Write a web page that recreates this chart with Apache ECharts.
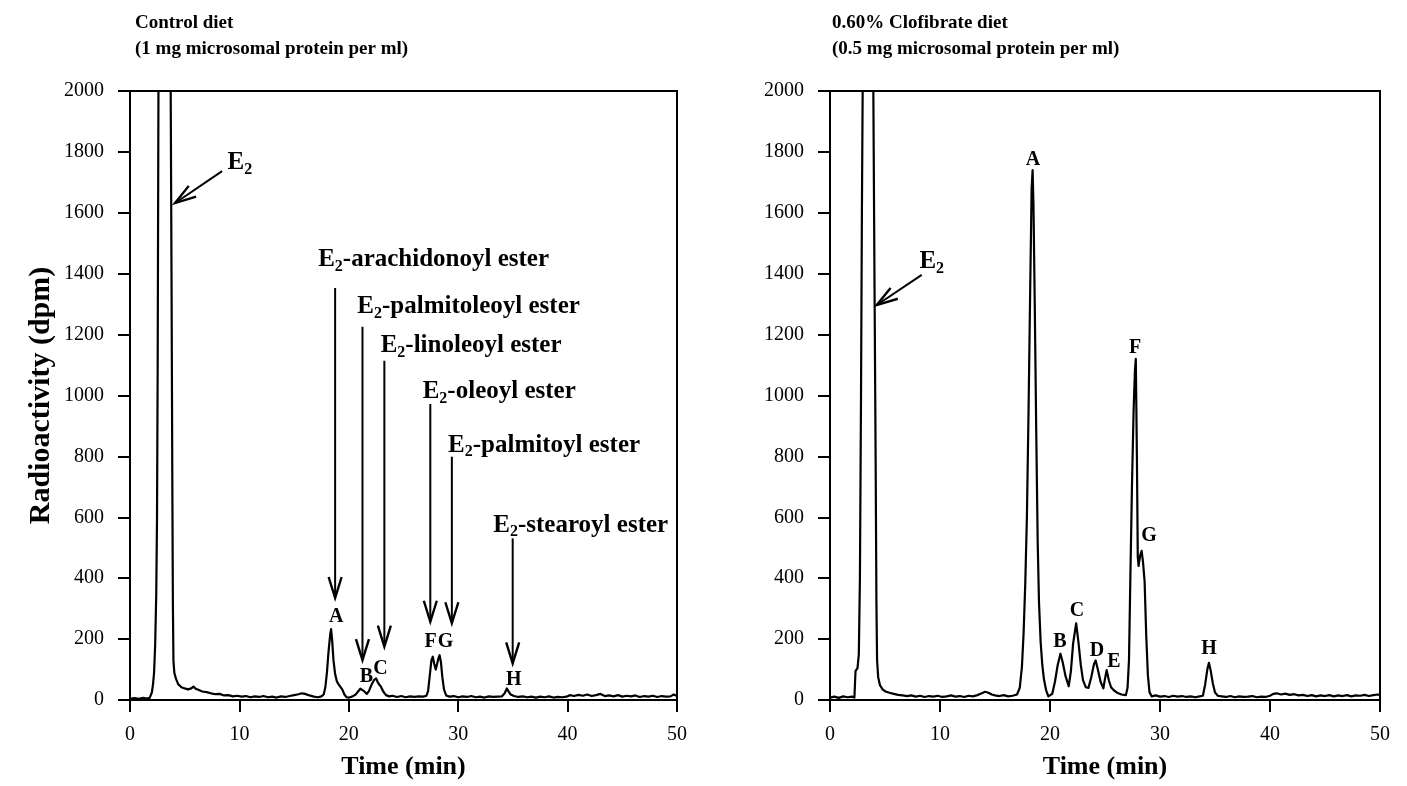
<!DOCTYPE html>
<html>
<head>
<meta charset="utf-8">
<script src="https://cdn.jsdelivr.net/npm/echarts@6/dist/echarts.min.js"></script>
<style>html,body{margin:0;padding:0;background:#fff}#c{width:1407px;height:786px}</style>
</head>
<body>
<div id="c"></div>
<script>
// ---------- DATA ----------
const panelTitles = ['Control diet\n(1 mg microsomal protein per ml)', '0.60% Clofibrate diet\n(0.5 mg microsomal protein per ml)'];
const xAxisTitle = 'Time (min)';
const yAxisTitle = 'Radioactivity (dpm)';
const xRange = [0, 50, 10];
const yRange = [0, 2000, 200];

// control diet trace [time (min), dpm]
const controlTrace = [[0,4],[0.4,6],[0.8,4],[1.2,7],[1.5,5],[1.8,7],[1.9,12],[2.0,25],[2.1,50],[2.2,90],[2.3,180],[2.4,350],[2.47,600],[2.53,1100],[2.6,2000],[2.7,3200],[3.1,4200],[3.5,3400],[3.65,2500],[3.72,2000],[3.8,1350],[3.87,700],[3.92,320],[3.97,130],[4.05,90],[4.2,70],[4.4,52],[4.7,42],[5.0,38],[5.3,35],[5.6,38],[5.8,44],[6.0,37],[6.3,33],[6.6,28],[7.0,26],[7.4,22],[7.8,19],[8.2,20],[8.6,15],[9.0,16],[9.4,12],[9.8,14],[10.2,11],[10.6,13],[11.0,9],[11.4,12],[11.8,10],[12.2,13],[12.6,9],[13.0,11],[13.4,8],[13.8,12],[14.2,10],[14.6,13],[15.0,16],[15.4,19],[15.7,22],[16.0,20],[16.4,15],[16.8,11],[17.2,9],[17.5,12],[17.7,18],[17.85,40],[18.0,90],[18.15,160],[18.3,215],[18.38,233],[18.47,200],[18.6,130],[18.75,85],[18.9,62],[19.05,52],[19.2,48],[19.4,35],[19.6,18],[19.8,9],[20.0,8],[20.3,11],[20.6,17],[20.85,28],[21.05,37],[21.2,38],[21.4,29],[21.65,20],[21.85,30],[22.1,52],[22.3,65],[22.5,71],[22.65,58],[22.8,50],[22.95,43],[23.15,28],[23.4,16],[23.7,12],[24.0,14],[24.4,10],[24.8,13],[25.2,9],[25.6,12],[26.0,10],[26.4,12],[26.8,11],[27.1,14],[27.25,30],[27.4,80],[27.55,130],[27.68,142],[27.8,120],[27.95,100],[28.05,105],[28.18,135],[28.3,147],[28.42,125],[28.55,75],[28.7,35],[28.9,15],[29.2,11],[29.6,13],[30.0,9],[30.4,12],[30.8,10],[31.2,13],[31.6,9],[32.0,11],[32.4,8],[32.8,12],[33.2,10],[33.6,11],[34.0,12],[34.25,22],[34.45,38],[34.6,28],[34.8,18],[35.1,13],[35.5,10],[35.9,12],[36.3,9],[36.7,11],[37.1,8],[37.5,11],[37.9,9],[38.3,12],[38.7,8],[39.1,10],[39.5,9],[39.9,11],[40.2,16],[40.6,13],[41.0,17],[41.4,14],[41.8,18],[42.2,13],[42.6,16],[43.0,20],[43.4,13],[43.8,15],[44.2,12],[44.6,16],[45.0,11],[45.4,14],[45.8,12],[46.2,15],[46.6,10],[47.0,13],[47.4,11],[47.8,14],[48.2,10],[48.6,13],[49.0,11],[49.4,12],[49.7,18],[49.85,22],[50,13]];

// 0.60% clofibrate diet trace [time (min), dpm]
const clofibrateTrace = [[0,8],[0.4,11],[0.8,7],[1.2,12],[1.6,9],[2.0,11],[2.22,8],[2.28,60],[2.32,95],[2.5,105],[2.62,150],[2.72,400],[2.82,1000],[2.9,1600],[2.97,2000],[3.1,3500],[3.5,4200],[3.85,2700],[3.94,2000],[4.05,1350],[4.15,780],[4.22,320],[4.28,130],[4.38,75],[4.55,48],[4.8,34],[5.1,27],[5.4,24],[5.8,20],[6.2,17],[6.6,15],[7.0,13],[7.4,15],[7.8,11],[8.2,14],[8.6,10],[9.0,13],[9.4,11],[9.8,14],[10.2,10],[10.6,12],[11.0,15],[11.4,11],[11.8,13],[12.2,10],[12.6,14],[13.0,12],[13.4,16],[13.8,22],[14.1,27],[14.4,24],[14.7,18],[15.0,15],[15.4,13],[15.8,16],[16.2,12],[16.6,14],[17.0,18],[17.25,40],[17.45,110],[17.6,220],[17.75,380],[17.9,600],[18.05,950],[18.2,1350],[18.33,1680],[18.42,1740],[18.5,1620],[18.62,1280],[18.75,880],[18.88,520],[19.0,320],[19.15,190],[19.3,115],[19.45,68],[19.65,32],[19.85,12],[20.0,7],[20.2,20],[20.45,60],[20.7,115],[20.95,152],[21.15,125],[21.4,80],[21.7,45],[21.9,95],[22.1,185],[22.38,252],[22.6,185],[22.8,115],[23.0,65],[23.25,42],[23.5,40],[23.75,75],[24.0,118],[24.15,130],[24.35,100],[24.6,60],[24.85,38],[25.0,70],[25.15,98],[25.35,65],[25.55,42],[25.8,32],[26.1,24],[26.5,18],[26.9,16],[27.05,40],[27.18,130],[27.3,390],[27.45,700],[27.6,950],[27.72,1080],[27.8,1120],[27.9,800],[27.98,470],[28.05,440],[28.2,475],[28.33,490],[28.45,455],[28.6,390],[28.75,210],[28.9,80],[29.05,25],[29.25,12],[29.6,15],[30.0,11],[30.4,13],[30.8,10],[31.2,14],[31.6,11],[32.0,13],[32.4,10],[32.8,12],[33.2,9],[33.6,12],[33.9,14],[34.1,50],[34.3,100],[34.45,122],[34.6,98],[34.8,55],[35.0,25],[35.25,14],[35.6,12],[36.0,10],[36.4,13],[36.8,9],[37.2,12],[37.6,10],[38.0,11],[38.4,13],[38.8,9],[39.2,11],[39.6,10],[40.0,14],[40.3,20],[40.6,22],[41.0,18],[41.4,21],[41.8,17],[42.2,19],[42.6,15],[43.0,17],[43.4,13],[43.8,16],[44.2,12],[44.6,15],[45.0,13],[45.4,16],[45.8,12],[46.2,15],[46.6,13],[47.0,16],[47.4,12],[47.8,15],[48.2,14],[48.6,17],[49.0,13],[49.4,16],[49.8,18],[50,17]];

// peak letter labels [letter, time, dpm]
const controlPeakLabels = [['A',18.84,273],['B',21.61,77],['C',22.89,104],['F',27.47,190],['G',28.85,190],['H',35.07,66]];
const clofibratePeakLabels = [['A',18.45,1773],['B',20.91,190],['C',22.45,292],['D',24.27,161],['E',25.82,125],['F',27.73,1156],['G',29.0,539],['H',34.45,167]];

// ester annotation texts [ester, time, dpm] and arrows [time, top dpm, tip dpm]
const esterLabels = [['arachidonoyl',27.75,1445],['palmitoleoyl',30.95,1292],['linoleoyl',31.18,1163],['oleoyl',33.75,1012],['palmitoyl',37.85,837],['stearoyl',41.2,574]];
const esterArrows = [[18.75,1353,335],[21.25,1226,131],[23.25,1114,175],[27.45,972,257],[29.42,799,252],[34.98,531,120]];

// E2 label [time, dpm] and arrow [startTime, startDpm, tipTime, tipDpm]
const controlE2Label = [10.05,1764];
const controlE2Arrow = [8.42,1737,4.12,1632];
const clofibrateE2Label = [9.25,1440];
const clofibrateE2Arrow = [8.34,1396,4.25,1297];

// ---------- CHART ----------
const FONT = 'Liberation Serif';
const richE = {
  b: {fontFamily: FONT, fontSize: 25, fontWeight: 'bold', color: '#000', lineHeight: 29},
  s: {fontFamily: FONT, fontSize: 16, fontWeight: 'bold', color: '#000', lineHeight: 29, padding: [14, 0, 0, 0]}
};

function xAxisOpt(gi) {
  return {
    type: 'value', gridIndex: gi, min: xRange[0], max: xRange[1], interval: xRange[2],
    name: xAxisTitle, nameLocation: 'middle', nameGap: 54, nameMoveOverlap: false,
    nameTextStyle: {fontFamily: FONT, fontSize: 26, fontWeight: 'bold', color: '#000'},
    axisLine: {show: true, lineStyle: {color: '#000', width: 2}},
    axisTick: {show: true, inside: false, length: 12, lineStyle: {color: '#000', width: 2}},
    axisLabel: {fontFamily: FONT, fontSize: 20, color: '#000', margin: 25},
    splitLine: {show: false}
  };
}
function yAxisOpt(gi, withName) {
  return {
    type: 'value', gridIndex: gi, min: yRange[0], max: yRange[1], interval: yRange[2],
    name: withName ? yAxisTitle : '', nameLocation: 'middle', nameGap: 74, nameRotate: 90, nameMoveOverlap: false,
    nameTextStyle: {fontFamily: FONT, fontSize: 30, fontWeight: 'bold', color: '#000'},
    axisLine: {show: true, lineStyle: {color: '#000', width: 2}},
    axisTick: {show: true, inside: false, length: 12, lineStyle: {color: '#000', width: 2}},
    axisLabel: {fontFamily: FONT, fontSize: 20, color: '#000', margin: 26, formatter: v => String(v)},
    splitLine: {show: false}
  };
}

function traceSeries(gi, trace) {
  return {
    type: 'line', xAxisIndex: gi, yAxisIndex: gi, data: trace,
    symbol: 'none', showSymbol: false, clip: true, silent: true,
    lineStyle: {color: '#000', width: 2.2, join: 'round'}
  };
}

function arrowSeries(gi, arrows) {
  return {
    type: 'custom', xAxisIndex: gi, yAxisIndex: gi, silent: true, clip: false,
    data: arrows,
    encode: {x: [0, 2], y: [1, 3]},
    renderItem: (params, api) => {
      const p1 = api.coord([api.value(0), api.value(1)]);
      const p2 = api.coord([api.value(2), api.value(3)]);
      const dx = p2[0] - p1[0], dy = p2[1] - p1[1];
      const L = Math.hypot(dx, dy) || 1;
      const ux = dx / L, uy = dy / L;
      const len = 21, hw = 6.5;
      const bx = p2[0] - ux * len, by = p2[1] - uy * len;
      const a1 = [bx - uy * hw, by + ux * hw], a2 = [bx + uy * hw, by - ux * hw];
      return {type: 'group', children: [
        {type: 'line', shape: {x1: p1[0], y1: p1[1], x2: p2[0] - ux, y2: p2[1] - uy}, style: {stroke: '#000', lineWidth: 2}},
        {type: 'polyline', shape: {points: [a1, p2, a2]}, style: {stroke: '#000', lineWidth: 2.4, fill: null, lineJoin: 'miter'}}
      ]};
    }
  };
}

const hiddenItem = {color: 'rgba(0,0,0,0)', opacity: 1};

function letterSeries(gi, labels) {
  return {
    type: 'scatter', xAxisIndex: gi, yAxisIndex: gi, silent: true,
    symbol: 'circle', symbolSize: 2, itemStyle: hiddenItem,
    data: labels.map(l => ({name: l[0], value: [l[1], l[2]]})),
    label: {show: true, position: 'inside', formatter: p => p.name, opacity: 1,
      textBorderWidth: 0, fontFamily: FONT, fontSize: 20, fontWeight: 'bold', color: '#000'}
  };
}

function richSeries(gi, items, fmt) {
  return {
    type: 'scatter', xAxisIndex: gi, yAxisIndex: gi, silent: true,
    symbol: 'circle', symbolSize: 2, itemStyle: hiddenItem,
    data: items,
    label: {show: true, position: 'inside', formatter: fmt, color: '#000', opacity: 1, textBorderWidth: 0, rich: richE}
  };
}

const controlArrows = esterArrows.map(a => [a[0], a[1], a[0], a[2]]).concat([controlE2Arrow]);
const clofArrows = [clofibrateE2Arrow];

const option = {
  animation: false,
  backgroundColor: '#fff',
  title: [
    {text: panelTitles[0], left: 130, top: 5,
     textStyle: {fontFamily: FONT, fontSize: 19, fontWeight: 'bold', color: '#000', lineHeight: 26}},
    {text: panelTitles[1], left: 827, top: 5,
     textStyle: {fontFamily: FONT, fontSize: 19, fontWeight: 'bold', color: '#000', lineHeight: 26}}
  ],
  grid: [
    {left: 130, right: 730, top: 91, bottom: 86, show: true, borderColor: '#000', borderWidth: 2, backgroundColor: 'transparent'},
    {left: 830, right: 27, top: 91, bottom: 86, show: true, borderColor: '#000', borderWidth: 2, backgroundColor: 'transparent'}
  ],
  xAxis: [xAxisOpt(0), xAxisOpt(1)],
  yAxis: [yAxisOpt(0, true), yAxisOpt(1, false)],
  series: [
    traceSeries(0, controlTrace),
    traceSeries(1, clofibrateTrace),
    arrowSeries(0, controlArrows),
    arrowSeries(1, clofArrows),
    letterSeries(0, controlPeakLabels),
    letterSeries(1, clofibratePeakLabels),
    richSeries(0, esterLabels.map(e => ({name: e[0], value: [e[1], e[2]]})),
      p => '{b|E}{s|2}{b|-' + p.name + ' ester}'),
    richSeries(0, [{name: 'E2', value: controlE2Label}], () => '{b|E}{s|2}'),
    richSeries(1, [{name: 'E2', value: clofibrateE2Label}], () => '{b|E}{s|2}')
  ]
};
const chart = echarts.init(document.getElementById('c'));
chart.setOption(option);
</script>
</body>
</html>
